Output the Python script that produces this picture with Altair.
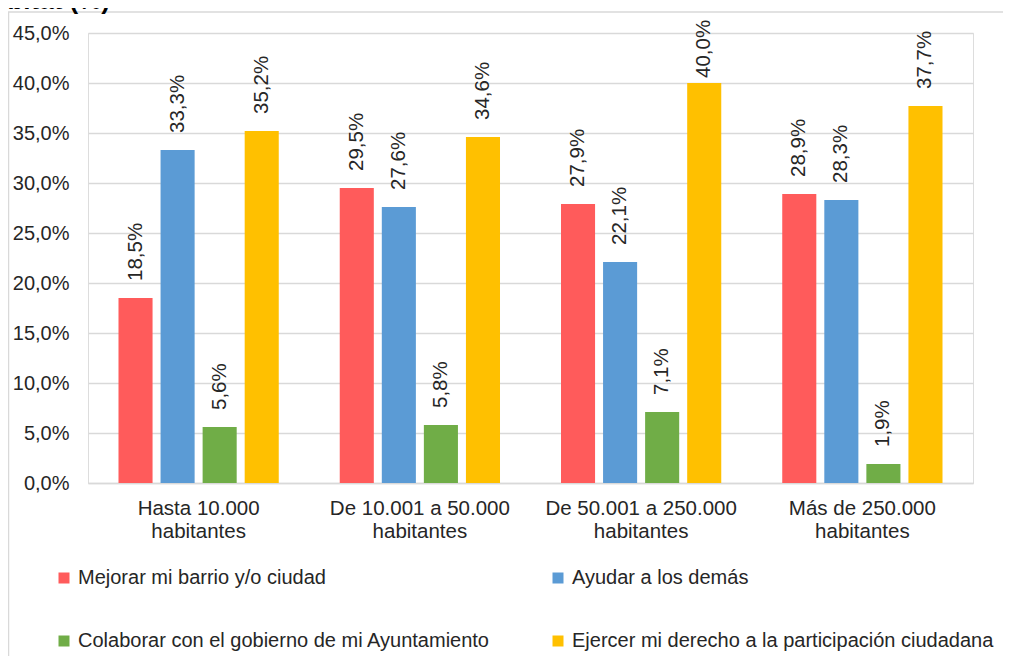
import altair as alt
import pandas as pd

title_text = "hábitat (%)"
categories = [
    "Hasta 10.000\nhabitantes",
    "De 10.001 a 50.000\nhabitantes",
    "De 50.001 a 250.000\nhabitantes",
    "Más de 250.000\nhabitantes",
]
series = [
    "Mejorar mi barrio y/o ciudad",
    "Ayudar a los demás",
    "Colaborar con el gobierno de mi Ayuntamiento",
    "Ejercer mi derecho a la participación ciudadana",
]
mejorar = [18.5, 29.5, 27.9, 28.9]
ayudar = [33.3, 27.6, 22.1, 28.3]
colaborar = [5.6, 5.8, 7.1, 1.9]
ejercer = [35.2, 34.6, 40.0, 37.7]
colors = ["#FF5B5B", "#5B9BD5", "#70AD47", "#FFC000"]
y_ticks = [0, 5, 10, 15, 20, 25, 30, 35, 40, 45]

rows = []
for s, vals in zip(series, [mejorar, ayudar, colaborar, ejercer]):
    for c, v in zip(categories, vals):
        rows.append({"cat": c, "series": s, "value": v,
                     "label": f"{v:.1f}".replace(".", ",") + "%"})
df = pd.DataFrame(rows)

TXT = "#262626"
GRID = "#D9D9D9"

x_enc = alt.X("cat:N", sort=categories,
              scale=alt.Scale(paddingInner=0, paddingOuter=0),
              axis=alt.Axis(title=None, labelAngle=0, ticks=False,
                            labelExpr="split(datum.label, '\\n')",
                            domainColor=GRID, domainWidth=1.5,
                            labelFontSize=20.5, labelColor=TXT, labelLimit=400,
                            labelPadding=15, labelLineHeight=23))
xo_enc = alt.XOffset("series:N", sort=series,
                     scale=alt.Scale(paddingInner=0.19, paddingOuter=0.725))
y_enc = alt.Y("value:Q", scale=alt.Scale(domain=[0, 45], nice=False),
              axis=alt.Axis(title=None, values=y_ticks, domain=False, ticks=False,
                            labelExpr="replace(format(datum.value, '.1f'), '.', ',') + '%'",
                            gridColor=GRID, gridWidth=1.5,
                            labelFontSize=20, labelColor=TXT, labelPadding=19))

base = alt.Chart(df)
bars = base.mark_bar().encode(
    x=x_enc, xOffset=xo_enc, y=y_enc,
    color=alt.Color("series:N", sort=series,
                    scale=alt.Scale(domain=series, range=colors),
                    legend=alt.Legend(title=None, orient="none", legendX=-34, legendY=535,
                                      columns=2, direction="horizontal",
                                      symbolType="square", symbolSize=121,
                                      symbolStrokeWidth=0, labelFontSize=20,
                                      labelColor=TXT, labelOffset=4,
                                      columnPadding=57, rowPadding=43,
                                      labelLimit=600)),
)
# labels sit just outside the bar end; the tallest one is held inside the chart area
labels = base.transform_calculate(
    lab_y="min(datum.value + 1.7, 40.5)"
).mark_text(angle=270, align="left", baseline="middle",
            fontSize=20.5, color=TXT).encode(
    x=alt.X("cat:N", sort=categories), xOffset=alt.XOffset("series:N", sort=series),
    y=alt.Y("lab_y:Q"), text="label:N")

border = alt.Chart(pd.DataFrame({"k": [0]})).mark_rect(
    fill=None, stroke=GRID, strokeWidth=1.5).encode(
    x=alt.value(-79.5), x2=alt.value(1000), y=alt.value(-21), y2=alt.value(800))

title = alt.Chart(pd.DataFrame({"t": [title_text]})).mark_text(
    align="right", baseline="alphabetic", fontSize=26, fontWeight="bold",
    color="#000000").encode(x=alt.value(22), y=alt.value(-24), text="t:N")

chart = alt.layer(border, title, bars, labels).properties(
    width=885, height=450,
    autosize=alt.AutoSizeParams(type="none"),
    padding={"left": 80, "top": 25, "right": 30, "bottom": 173},
).configure_view(stroke=None).configure(font="Liberation Sans")

chart.save("out.html", embed_options={"renderer": "svg", "actions": False})
